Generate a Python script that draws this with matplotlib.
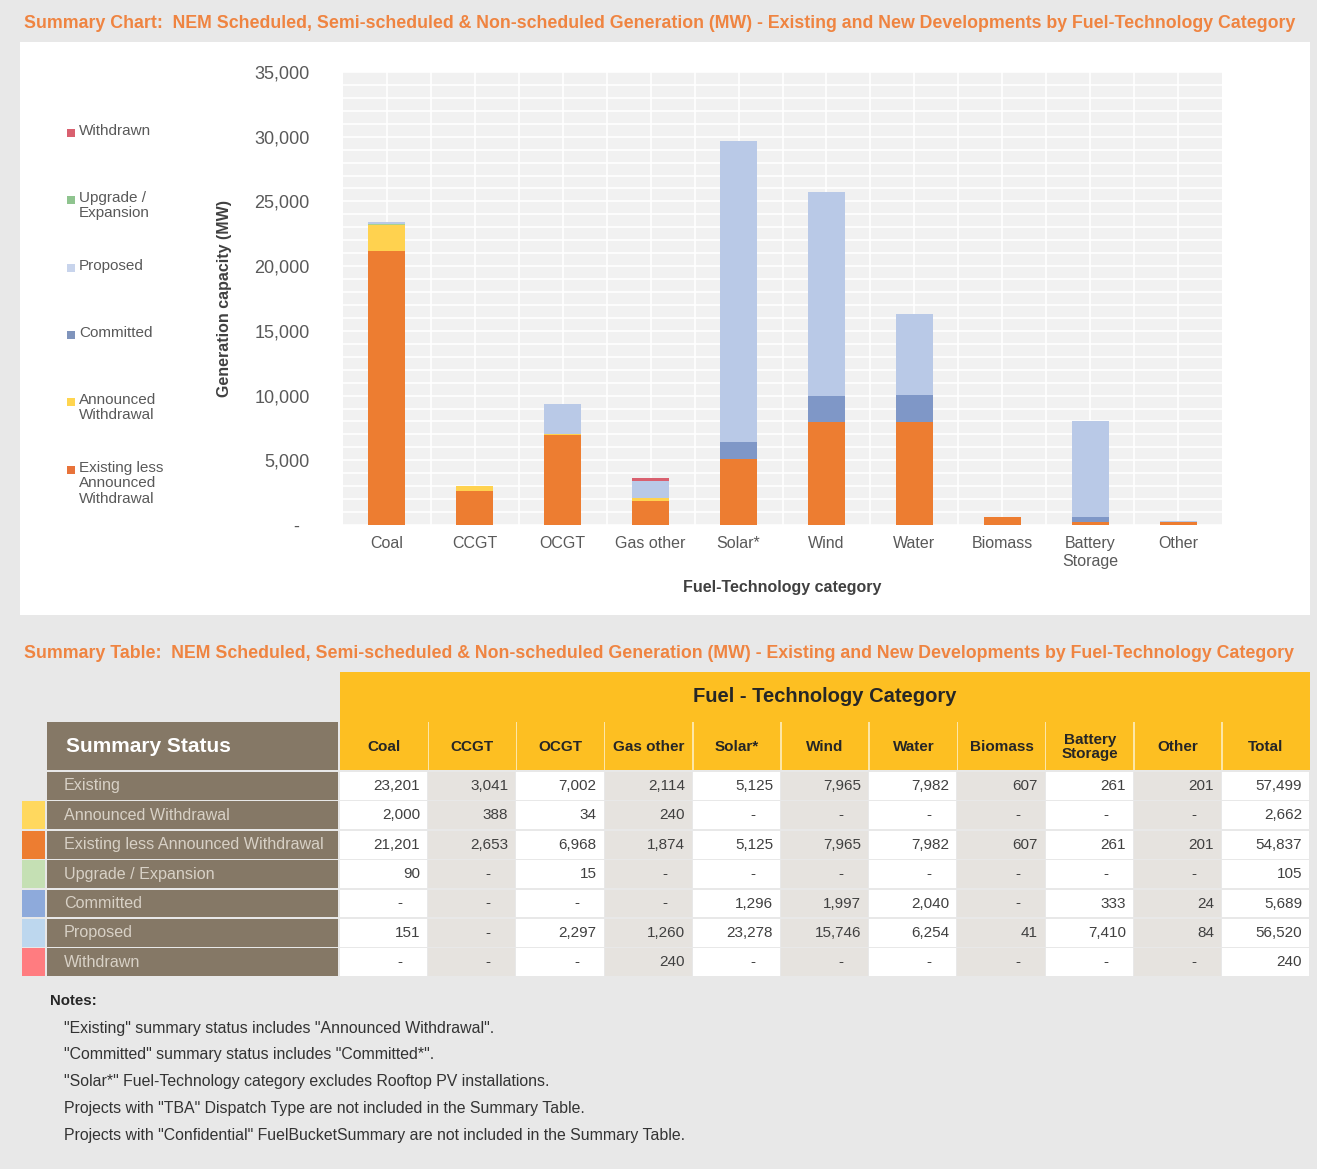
import matplotlib
matplotlib.use('Agg')
import matplotlib.pyplot as plt
from matplotlib.patches import Rectangle
from matplotlib.ticker import MultipleLocator, FuncFormatter

plt.rcParams['font.family'] = ['Liberation Sans', 'DejaVu Sans']

# ---- data (MW) ----
categories = ['Coal', 'CCGT', 'OCGT', 'Gas other', 'Solar*', 'Wind', 'Water',
              'Biomass', 'Battery\nStorage', 'Other']
existing = [23201, 3041, 7002, 2114, 5125, 7965, 7982, 607, 261, 201]
announced_withdrawal = [2000, 388, 34, 240, 0, 0, 0, 0, 0, 0]
existing_less_aw = [21201, 2653, 6968, 1874, 5125, 7965, 7982, 607, 261, 201]
upgrade = [90, 0, 15, 0, 0, 0, 0, 0, 0, 0]
committed = [0, 0, 0, 0, 1296, 1997, 2040, 0, 333, 24]
proposed = [151, 0, 2297, 1260, 23278, 15746, 6254, 41, 7410, 84]
withdrawn = [0, 0, 0, 240, 0, 0, 0, 0, 0, 0]
totals = [57499, 2662, 54837, 105, 5689, 56520, 240]

status_labels = ['Existing', 'Announced Withdrawal', 'Existing less Announced Withdrawal',
                 'Upgrade / Expansion', 'Committed', 'Proposed', 'Withdrawn']
table_headers = categories + ['Total']

notes = ['"Existing" summary status includes "Announced Withdrawal".',
         '"Committed" summary status includes "Committed*".',
         '"Solar*" Fuel-Technology category excludes Rooftop PV installations.',
         'Projects with "TBA" Dispatch Type are not included in the Summary Table.',
         'Projects with "Confidential" FuelBucketSummary are not included in the Summary Table.']

W, H = 1317, 1169
fig = plt.figure(figsize=(W / 100, H / 100), dpi=100, facecolor='#e8e8e8')


def fx(x):
    return x / W


def fy(y):
    return 1 - y / H


def box(x0, y0, x1, y1, color, z=1):
    fig.add_artist(Rectangle((fx(x0), fy(y1)), (x1 - x0) / W, (y1 - y0) / H,
                             transform=fig.transFigure, facecolor=color,
                             edgecolor='none', zorder=z))


def label(x, y, s, **kw):
    kw.setdefault('zorder', 3)
    fig.text(fx(x), fy(y), s, **kw)


orange_title = '#ef8441'
title_tail = ('NEM Scheduled, Semi-scheduled & Non-scheduled Generation (MW) - '
              'Existing and New Developments by Fuel-Technology Category')

# ---- chart panel ----
box(20, 42, 1310, 615, 'white', z=-5)
label(24, 24, 'Summary Chart:  ' + title_tail,
      fontsize=12.8, fontweight='bold', color=orange_title, va='center')

ax = fig.add_axes([fx(343), fy(525), (1222 - 343) / W, (525 - 72) / H])
ax.set_facecolor('#f1f1f1')

series = [
    (existing_less_aw, '#ed7d31'),
    (announced_withdrawal, '#ffd24f'),
    (upgrade, '#a9d18e'),
    (committed, '#7f97c7'),
    (proposed, '#b9c9e7'),
    (withdrawn, '#d9606f'),
]
x = list(range(len(categories)))
bottom = [0] * len(categories)
for vals, col in series:
    ax.bar(x, vals, width=0.42, bottom=bottom, color=col, zorder=3)
    bottom = [b + v for b, v in zip(bottom, vals)]

ax.set_xlim(-0.5, len(categories) - 0.5)
ax.set_ylim(0, 35000)
ax.yaxis.set_major_locator(MultipleLocator(5000))
ax.yaxis.set_minor_locator(MultipleLocator(1000))
ax.yaxis.set_major_formatter(FuncFormatter(lambda v, p: '-  ' if v == 0 else f'{v:,.0f}'))
ax.set_xticks(x)
ax.set_xticklabels(categories)
ax.set_xticks([i + 0.5 for i in x[:-1]], minor=True)
ax.grid(which='both', color='white', linewidth=1.2, zorder=0)
ax.set_axisbelow(True)
ax.tick_params(axis='y', which='both', length=0, pad=24, labelsize=13, labelcolor='#595959')
ax.tick_params(axis='x', which='both', length=0, pad=8, labelsize=11.5, labelcolor='#595959')
for s in ax.spines.values():
    s.set_visible(False)
ax.set_ylabel('Generation capacity (MW)', fontsize=11.5, fontweight='bold', color='#404040',
              labelpad=16)
ax.set_xlabel('Fuel-Technology category', fontsize=11.5, fontweight='bold', color='#404040',
              labelpad=8)

# legend (drawn by hand, top entry first)
legend_items = [
    ('Withdrawn', '#d9606f', 133),
    ('Upgrade /\nExpansion', '#8fc48f', 200),
    ('Proposed', '#c8d4ec', 268),
    ('Committed', '#7f94bc', 335),
    ('Announced\nWithdrawal', '#ffd54f', 402),
    ('Existing less\nAnnounced\nWithdrawal', '#e8733a', 470),
]
for text, col, y in legend_items:
    box(67, y - 4, 75, y + 4, col, z=3)
    label(79, y - 9, text, fontsize=11, color='#595959', va='top', linespacing=1.12)

# ---- table ----
label(24, 654, 'Summary Table:  ' + title_tail,
      fontsize=12.8, fontweight='bold', color=orange_title, va='center')

col_x0 = 340
col_w = 88.2
header_yellow = '#fdbf22'
box(col_x0, 672, 1310, 770, header_yellow)
label((col_x0 + 1310) / 2, 697, 'Fuel - Technology Category', fontsize=14.5,
      fontweight='bold', color='#262626', ha='center', va='center')
n_cols = len(table_headers)
col_edges = [col_x0 + i * col_w for i in range(n_cols)] + [1310]
for i in range(1, n_cols):
    box(col_edges[i] - 0.7, 722, col_edges[i] + 0.7, 770, '#fde6a6', z=2)
for i, h in enumerate(table_headers):
    cx = (col_edges[i] + col_edges[i + 1]) / 2
    label(cx, 747, h, fontsize=11, fontweight='bold', color='#262626',
          ha='center', va='center', linespacing=1.0)

brown = '#857866'
box(47, 722, 338, 770, brown)
label(66, 747, 'Summary Status', fontsize=15, fontweight='bold', color='white', va='center')

rows = [existing, announced_withdrawal, existing_less_aw, upgrade, committed, proposed, withdrawn]
swatches = [None, '#ffd85e', '#ed7d31', '#c5e0b4', '#8eaadb', '#bdd7ee', '#ff7c80']
row_top = 772
row_h = 29.4
for r, (name, vals) in enumerate(zip(status_labels, rows)):
    y0 = row_top + r * row_h
    y1 = y0 + row_h - 1.6
    yc = (y0 + y1) / 2
    box(47, y0, 338, y1, brown)
    label(64, yc, name, fontsize=11.6, color='#d8d1c6', va='center')
    if swatches[r]:
        box(22, y0, 45, y1, swatches[r])
    cells = list(vals) + [totals[r]]
    for i, v in enumerate(cells):
        bg = '#e6e3df' if i % 2 == 1 else 'white'
        box(col_edges[i], y0, col_edges[i + 1] - 1, y1, bg)
        txt = f'{v:,}' if v else '-'
        xr = col_edges[i + 1] - 8 if v else (col_edges[i] + col_edges[i + 1]) / 2 + 16
        label(xr, yc, txt, fontsize=11, color='#404040',
              ha='right' if v else 'center', va='center')

# ---- notes ----
label(50, 1001, 'Notes:', fontsize=10.8, fontweight='bold', color='#262626', va='center')
for k, n in enumerate(notes):
    label(64, 1028 + k * 26.8, n, fontsize=11.4, color='#333333', va='center')

fig.savefig('out.png', dpi=100, facecolor=fig.get_facecolor())
